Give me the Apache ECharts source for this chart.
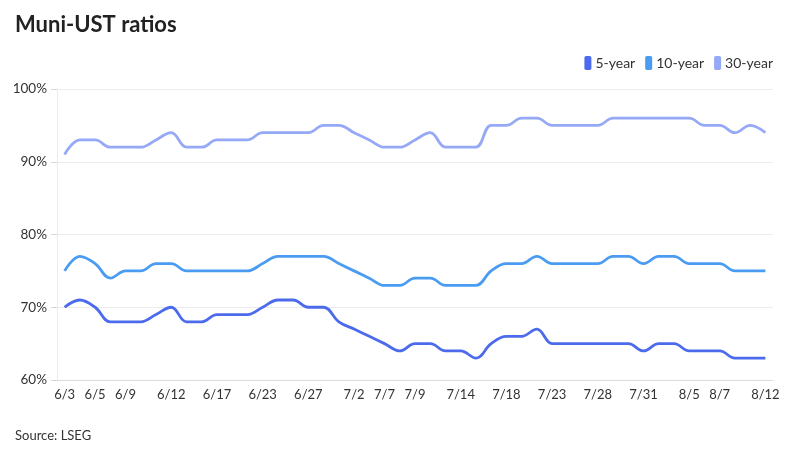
<!DOCTYPE html>
<html>
<head>
<meta charset="utf-8">
<title>Muni-UST ratios</title>
<script src="https://cdn.jsdelivr.net/npm/echarts@6/dist/echarts.min.js"></script>
<style>
  html, body { margin: 0; padding: 0; background: #fff; }
  #chart { width: 800px; height: 450px; }
</style>
</head>
<body>
<div id="chart"></div>
<script>
// trading days, 6/3 - 8/12
var dates = ['6/3','6/4','6/5','6/6','6/9','6/10','6/11','6/12','6/13','6/16',
  '6/17','6/18','6/20','6/23','6/24','6/25','6/27','6/30','7/1','7/2',
  '7/3','7/7','7/8','7/9','7/10','7/11','7/14','7/15','7/17','7/18',
  '7/21','7/22','7/23','7/24','7/25','7/28','7/29','7/30','7/31','8/1',
  '8/4','8/5','8/6','8/7','8/8','8/11','8/12'];

// dates that get a label under the axis
var shownDates = ['6/3','6/5','6/9','6/12','6/17','6/23','6/27','7/2','7/7','7/9',
  '7/14','7/18','7/23','7/28','7/31','8/5','8/7','8/12'];

var fiveYear = [70,71,70,68,68,68,69,70,68,68,
  69,69,69,70,71,71,70,70,68,67,
  66,65,64,65,65,64,64,63,65,66,
  66,67,65,65,65,65,65,65,64,65,
  65,64,64,64,63,63,63];

var tenYear = [75,77,76,74,75,75,76,76,75,75,
  75,75,75,76,77,77,77,77,76,75,
  74,73,73,74,74,73,73,73,75,76,
  76,77,76,76,76,76,77,77,76,77,
  77,76,76,76,75,75,75];

var thirtyYear = [91,93,93,92,92,92,93,94,92,92,
  93,93,93,94,94,94,94,95,95,94,
  93,92,92,93,94,92,92,92,95,95,
  96,96,95,95,95,95,96,96,96,96,
  96,96,95,95,94,95,94];

var yTicks = [60, 70, 80, 90, 100];

var colors = ['#4c6bec', '#4a9cf3', '#95a9f6'];
var font = 'Lato, "Noto Sans", sans-serif';

var chart = echarts.init(document.getElementById('chart'));

function lineSeries(name, data) {
    return {
        name: name,
        type: 'line',
        data: data,
        smooth: 0.4,
        showSymbol: false,
        lineStyle: {width: 2.8},
        emphasis: {disabled: true}
    };
}

var option = {
    animation: false,
    color: colors,
    textStyle: {fontFamily: font},
    title: [
        {text: 'Muni-UST ratios', left: 10, top: 9,
            textStyle: {fontFamily: font, fontSize: 22, fontWeight: 'bold', color: '#222'}},
        {text: 'Source: LSEG', left: 10, top: 424,
            textStyle: {fontFamily: font, fontSize: 13, fontWeight: 'normal', color: '#333'}}
    ],
    legend: {
        right: 22,
        top: 51,
        icon: 'roundRect',
        itemWidth: 7,
        itemHeight: 14,
        itemGap: 10,
        textStyle: {fontFamily: font, fontSize: 14, color: '#333', padding: [0, 0, 0, -1]},
        data: ['5-year', '10-year', '30-year']
    },
    grid: {left: 57, right: 27, top: 89, bottom: 70},
    xAxis: {
        type: 'category',
        data: dates,
        boundaryGap: true,
        axisLine: {lineStyle: {color: '#dcdcdc'}},
        axisTick: {
            alignWithLabel: true,
            interval: 0,
            length: 4,
            lineStyle: {color: '#d6d6d6'}
        },
        axisLabel: {
            interval: function (i, v) { return shownDates.indexOf(v) >= 0; },
            color: '#333',
            fontSize: 13,
            margin: 8
        }
    },
    yAxis: {
        type: 'value',
        min: yTicks[0],
        max: yTicks[yTicks.length - 1],
        interval: 10,
        axisLine: {show: true, lineStyle: {color: '#ececec'}},
        axisTick: {show: true, length: 6, lineStyle: {color: '#d6d6d6'}},
        splitLine: {lineStyle: {color: '#ececec'}},
        axisLabel: {
            formatter: '{value}%',
            color: '#333',
            fontSize: 13.5,
            margin: 10
        }
    },
    series: [
        lineSeries('5-year', fiveYear),
        lineSeries('10-year', tenYear),
        lineSeries('30-year', thirtyYear)
    ]
};

chart.setOption(option);
</script>
</body>
</html>
